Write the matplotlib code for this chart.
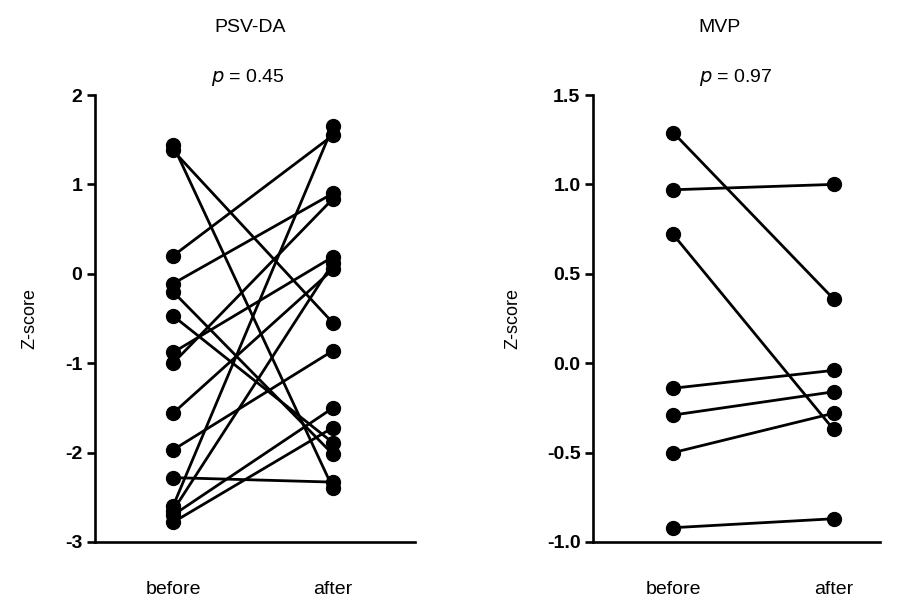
import matplotlib
matplotlib.use("Agg")
import matplotlib.pyplot as plt
import matplotlib.transforms as mtransforms

plt.rcParams['font.family'] = ['Liberation Sans', 'DejaVu Sans']

groups = ["before", "after"]

# PSV-DA paired values
psv_before = [1.44, 1.38, 0.20, -0.11, -0.20, -0.47, -0.88, -1.00, -1.56, -1.97, -2.28, -2.60, -2.65, -2.70, -2.78]
psv_after  = [-2.40, -0.55, 1.55, 0.90, -2.02, -1.89, 0.19, 0.84, 0.05, -0.86, -2.33, 1.65, 0.12, -1.50, -1.72]

# MVP paired values
mvp_before = [1.29, 0.97, 0.72, -0.14, -0.29, -0.50, -0.92]
mvp_after  = [0.36, 1.00, -0.37, -0.04, -0.16, -0.28, -0.87]

psv_ticks = [2, 1, 0, -1, -2, -3]
psv_ticklabels = ["2", "1", "0", "-1", "-2", "-3"]
mvp_ticks = [1.5, 1.0, 0.5, 0.0, -0.5, -1.0]
mvp_ticklabels = ["1.5", "1.0", "0.5", "0.0", "-0.5", "-1.0"]

W, H = 901, 607
fig = plt.figure(figsize=(W / 100, H / 100), dpi=100)

def fx(px):
    return px / W

def fy(py):
    return 1 - py / H

axL = fig.add_axes([fx(95), fy(542), fx(320), fy(95) - fy(542)])
axR = fig.add_axes([fx(593), fy(542), fx(287), fy(95) - fy(542)])

def style(ax, ticks, labels, ylim, xlim):
    ax.set_ylim(*ylim)
    ax.set_xlim(*xlim)
    for s in ["top", "right"]:
        ax.spines[s].set_visible(False)
    for s in ["left", "bottom"]:
        ax.spines[s].set_linewidth(1.9)
    ax.set_yticks(ticks)
    ax.set_yticklabels(labels, fontsize=14, fontweight="bold")
    ax.tick_params(axis="y", direction="out", length=6, width=1.9, pad=3)
    ax.set_xticks([0, 1])
    ax.set_xticklabels(groups, fontsize=14)
    ax.tick_params(axis="x", length=0, pad=28)
    ax.set_ylabel("Z-score", fontsize=13)

def draw(ax, b, a):
    for y0, y1 in zip(b, a):
        ax.plot([0, 1], [y0, y1], color="black", lw=2.0, marker="o",
                markersize=10, solid_capstyle="butt", clip_on=False)

draw(axL, psv_before, psv_after)
draw(axR, mvp_before, mvp_after)

style(axL, psv_ticks, psv_ticklabels, (-3, 2), (-0.4875, 1.5125))
style(axR, mvp_ticks, mvp_ticklabels, (-1.0, 1.5), (-0.5, 1.29))
axL.yaxis.set_label_coords((38 - 95) / 320, 0.5)
axR.yaxis.set_label_coords((521 - 593) / 287, 0.5)

for ax, title, pval, tx, px in [(axL, "PSV-DA", "0.45", 0.48, 0.47),
                               (axR, "MVP", "0.97", 0.29, 0.39)]:
    tr = mtransforms.blended_transform_factory(ax.transData, fig.transFigure)
    ax.text(tx, fy(27), title, transform=tr, ha="center", va="center", fontsize=14)
    ax.text(px, fy(77), r"$\it{p}$ = " + pval, transform=tr, ha="center",
            va="center", fontsize=14)

fig.savefig("out.png", dpi=100)
